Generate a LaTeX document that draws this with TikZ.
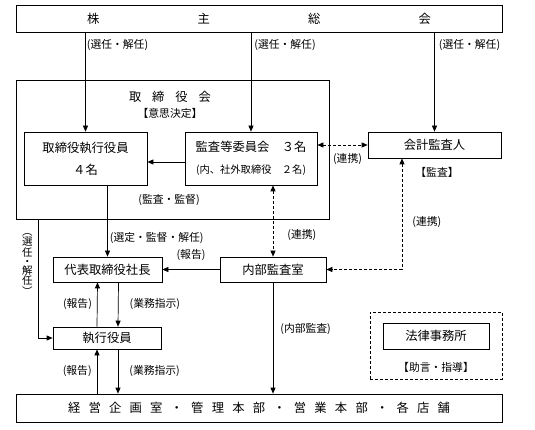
\documentclass[tikz,border=0pt]{standalone}
\usepackage{fontspec}
\setmainfont{Noto Sans CJK JP}
\usetikzlibrary{arrows.meta, positioning}

\begin{document}
\begin{tikzpicture}[
    x=1pt, y=-1pt,
    every node/.style = {font=\fontsize{12.3}{14}\selectfont, inner sep=0pt},
    orgbox/.style   = {rectangle, draw, line width=0.7pt},
    advisorframe/.style = {rectangle, draw, line width=0.7pt,
                           dash pattern=on 3pt off 2pt},
    note/.style     = {font=\fontsize{10.8}{12}\selectfont},
    solidarrow/.style  = {-{Triangle[length=6pt,width=5pt]}, line width=0.7pt},
    dashedarrow/.style = {{Triangle[length=6pt,width=5pt]}-{Triangle[length=6pt,width=5pt]},
                          line width=0.7pt, dash pattern=on 3pt off 2pt},
    plainline/.style   = {line width=0.7pt}
  ]
  \useasboundingbox (0,0) rectangle (535,430);

  % top and bottom bars
  \node[orgbox, minimum width=486pt, minimum height=27pt] (kabunushi) at (259,18.5)
       {\makebox[344pt]{株\hfill 主\hfill 総\hfill 会}};
  \node[orgbox, minimum width=486pt, minimum height=28pt] (eigyo) at (259,408)
       {\makebox[382pt]{経\hfill 営\hfill 企\hfill 画\hfill 室\hfill ・\hfill 管\hfill 理\hfill 本\hfill 部\hfill ・\hfill 営\hfill 業\hfill 本\hfill 部\hfill ・\hfill 各\hfill 店\hfill 舗}};

  % board of directors
  \node[orgbox, minimum width=313pt, minimum height=139pt] (board) at (172.5,149.5) {};
  \node (boardname) at (170,97) {\makebox[82pt]{取\hfill 締\hfill 役\hfill 会}};
  \node[note] (boardrole) at (170,113) {【意思決定】};
  \node[orgbox, minimum width=123pt, minimum height=53pt, align=center,
        font=\fontsize{12.3}{22}\selectfont] (torishimari) at (85.5,158.5)
       {取締役執行役員\\４名};
  \node[orgbox, minimum width=132pt, minimum height=53pt, align=center,
        font=\fontsize{12.3}{22}\selectfont] (kansa) at (251,158.5)
       {監査等委員会　３名\\{\fontsize{10.3}{22}\selectfont (内、社外取締役　２名)}};
  \node[note] (kantoku) at (169,200) {(監査・監督)};

  % auditors
  \node[orgbox, minimum width=133pt, minimum height=26pt] (kaikei) at (434.5,145) {会計監査人};
  \node[note] (kaikeirole) at (437,172) {【監査】};

  % executive side
  \node[orgbox, minimum width=109pt, minimum height=25pt] (daihyo) at (107.5,269.5) {代表取締役社長};
  \node[orgbox, minimum width=106pt, minimum height=25pt] (naibu) at (273,269.5) {内部監査室};
  \node[orgbox, minimum width=108pt, minimum height=22pt] (shikko) at (107,338) {執行役員};

  % legal advisor
  \node[advisorframe, minimum width=132pt, minimum height=67pt] (advisor) at (436,345.5) {};
  \node[orgbox, minimum width=106pt, minimum height=26pt] (houritsu) at (436,336) {法律事務所};
  \node[note] (houritsurole) at (436,367) {【助言・指導】};

  \coordinate (leftdrop) at (38,219);
  \coordinate (bend) at (402,269.5);

  % arrows
  \draw[solidarrow] (kabunushi.south -| torishimari.north) --
      node[note, pos=.13, right=1pt]{(選任・解任)} (torishimari.north);
  \draw[solidarrow] (kabunushi.south -| kansa.north) --
      node[note, pos=.13, right=3pt]{(選任・解任)} (kansa.north);
  \draw[solidarrow] (kabunushi.south -| kaikei.north) --
      node[note, pos=.13, right=4pt]{(選任・解任)} (kaikei.north);
  \draw[solidarrow] ([yshift=-3.5pt]kansa.west) -- ([yshift=-3.5pt]torishimari.east);
  \draw[dashedarrow] (kansa.east |- kaikei.west) --
      node[note, below=8pt, xshift=5pt]{(連携)} (kaikei.west);
  \draw[solidarrow] (torishimari.south -| daihyo.north) --
      node[note, pos=.74, right=2pt]{(選定・監督・解任)} (daihyo.north);
  \draw[dashedarrow] (kansa.south -| naibu.north) --
      node[note, pos=.69, right=14pt]{(連携)} (naibu.north);
  \draw[dashedarrow] (kaikei.south -| bend) --
      node[note, pos=.57, right=10pt]{(連携)} (bend) -- (naibu.east);
  \draw[solidarrow] (naibu.west) --
      node[note, above=9pt]{(報告)} (daihyo.east);
  \draw[solidarrow] (leftdrop) |-
      node[pos=.19, left=5pt, align=center, font=\fontsize{10.5}{9}\selectfont]
      {︵\\選\\任\\・\\解\\任\\︶} (shikko.west);
  \draw[solidarrow] ([xshift=-10pt]shikko.north) --
      node[note, left=5pt]{(報告)} ([xshift=-10pt]daihyo.south);
  \draw[solidarrow] ([xshift=11pt]daihyo.south) --
      node[note, right=11pt]{(業務指示)} ([xshift=11pt]shikko.north);
  \draw[solidarrow] ([xshift=-10pt]shikko.south |- eigyo.north) --
      node[note, left=5pt]{(報告)} ([xshift=-10pt]shikko.south);
  \draw[solidarrow] ([xshift=11pt]shikko.south) --
      node[note, right=11pt]{(業務指示)} ([xshift=11pt]shikko.south |- eigyo.north);
  \draw[solidarrow] (naibu.south) --
      node[note, pos=.42, right=7pt]{(内部監査)} (naibu.south |- eigyo.north);

\end{tikzpicture}
\end{document}
